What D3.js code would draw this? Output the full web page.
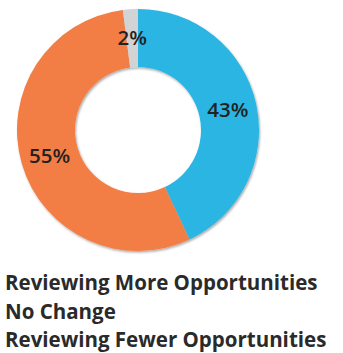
<!DOCTYPE html>
<html><head><meta charset="utf-8">
<script src="https://cdn.jsdelivr.net/npm/d3@7"></script>
<style>
html,body{margin:0;padding:0;background:#fff;}
svg{display:block;font-family:"Open Sans",sans-serif;}
</style></head>
<body>
<svg id="chart" width="343" height="353"></svg>
<script>
const categories = ["Reviewing More Opportunities", "Reviewing Fewer Opportunities", "No Change"];
const values = [43, 55, 2];
const labels = ["43%", "55%", "2%"];
const colors = ["#2bb5e3", "#f37e45", "#d1d3d4"];
const legendOrder = ["Reviewing More Opportunities", "No Change", "Reviewing Fewer Opportunities"];

const svg = d3.select("#chart");
const cx = 138, cy = 130, rOuter = 121, rInner = 63;

const defs = svg.append("defs");
const f = defs.append("filter").attr("id","sh").attr("x","-20%").attr("y","-20%").attr("width","140%").attr("height","140%");
f.append("feDropShadow").attr("dx",1).attr("dy",1.5).attr("stdDeviation",0.8).attr("flood-color","#000").attr("flood-opacity",0.35);

const pie = d3.pie().sort(null).value(d => d)(values);
const arc = d3.arc().innerRadius(rInner).outerRadius(rOuter);
const g = svg.append("g").attr("transform", `translate(${cx},${cy})`);
g.append("g").attr("filter","url(#sh)").selectAll("path").data(pie).join("path")
  .attr("d", arc).attr("fill", (d,i) => colors[i]);
g.selectAll("text").data(pie).join("text")
  .attr("transform", d => `translate(${arc.centroid(d)})`)
  .attr("text-anchor","middle").attr("dy","0.35em")
  .attr("font-size", 20.5).attr("font-weight", 600).attr("fill", "#222")
  .text((d,i) => labels[i]);

const ly = d3.scalePoint().domain(legendOrder).range([290, 347]);
svg.append("g").selectAll("text").data(legendOrder).join("text")
  .attr("x", 5).attr("y", d => ly(d))
  .attr("font-size", 20.5).attr("font-weight", 700).attr("fill", "#2a2a2a")
  .text(d => d);
</script>
</body></html>
